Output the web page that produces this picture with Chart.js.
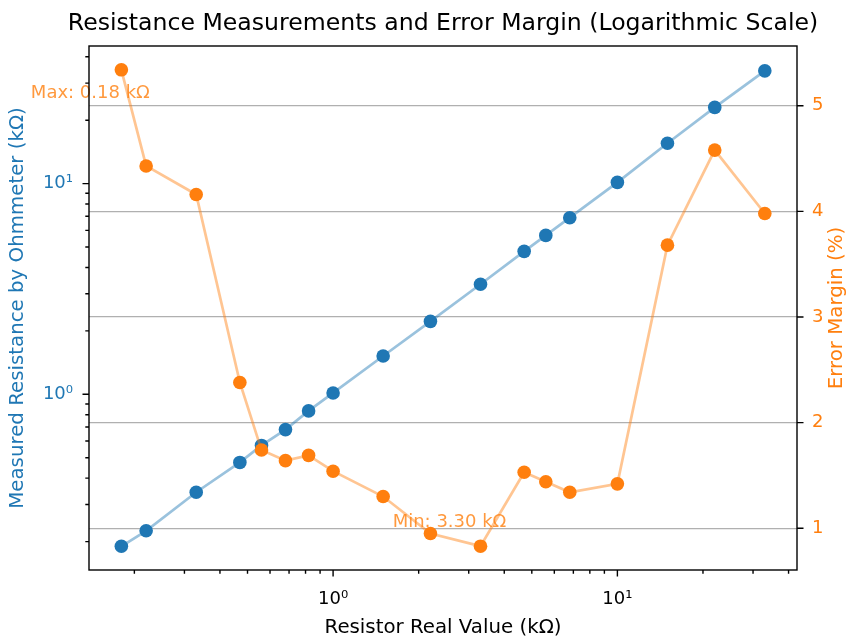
<!DOCTYPE html>
<html><head><meta charset="utf-8">
<script src="https://cdn.jsdelivr.net/npm/chart.js@4"></script>
<style>html,body{margin:0;padding:0;background:#fff}canvas{display:block}</style>
</head><body>
<canvas id="c" width="846" height="639"></canvas>
<script>
// ---- data ----
const realValues = [0.18, 0.22, 0.33, 0.47, 0.56, 0.68, 0.82, 1.0, 1.5, 2.2, 3.3, 4.7, 5.6, 6.8, 10, 15, 22, 33];
const measuredValues = [0.19, 0.225, 0.343, 0.475, 0.572, 0.68, 0.834, 1.015, 1.52, 2.22, 3.33, 4.77, 5.68, 6.89, 10.14, 15.55, 23.0, 34.3];
const errorMargins = [5.34, 4.43, 4.16, 2.38, 1.74, 1.64, 1.69, 1.54, 1.30, 0.95, 0.83, 1.53, 1.44, 1.34, 1.42, 3.68, 4.58, 3.98];
const xDecadeTicks = [1, 10];
const yDecadeTicks = [1, 10];
const errorTicks = [1, 2, 3, 4, 5];
const xLimits = [0.1385, 42.83];
const yLimits = [0.1466, 45.0];
const errLimits = [0.6045, 5.5655];

const BLUE = '#1f77b4', ORANGE = '#ff7f0e';
const FONT = 'DejaVu Sans';
const LABEL_SIZE = 19.8;
const SUP = {'0':'⁰','1':'¹','2':'²','3':'³','4':'⁴','5':'⁵','6':'⁶','7':'⁷','8':'⁸','9':'⁹','-':'⁻'};
const pow10Label = v => { const e = Math.round(Math.log10(v)); return '10' + String(e).split('').map(c => SUP[c]).join(''); };

const measuredData = realValues.map((x, i) => ({x, y: measuredValues[i]}));
const errorData = realValues.map((x, i) => ({x, y: errorMargins[i]}));

const logTicks = (min, max) => {
  const out = [];
  for (let k = Math.floor(Math.log10(min)); k <= Math.ceil(Math.log10(max)); k++)
    for (let m = 1; m <= 9; m++) {
      const v = m * Math.pow(10, k);
      if (v >= min && v <= max) out.push({v, major: m === 1});
    }
  return out;
};

const decor = {
  id: 'decor',
  afterDatasetsDraw(chart) {
    const {ctx, chartArea: a, scales} = chart;
    ctx.save();
    // annotations for max / min error
    let iMax = 0, iMin = 0;
    errorMargins.forEach((e, i) => { if (e > errorMargins[iMax]) iMax = i; if (e < errorMargins[iMin]) iMin = i; });
    ctx.font = '18px "' + FONT + '"';
    ctx.fillStyle = 'rgba(255,127,14,0.8)';
    ctx.textAlign = 'center';
    ctx.textBaseline = 'alphabetic';
    const pMax = {x: scales.x.getPixelForValue(realValues[iMax]), y: scales.y2.getPixelForValue(errorMargins[iMax])};
    const pMin = {x: scales.x.getPixelForValue(realValues[iMin]), y: scales.y2.getPixelForValue(errorMargins[iMin])};
    ctx.fillText('Max: ' + realValues[iMax].toFixed(2) + ' kΩ', pMax.x - 31, pMax.y + 28.5);
    ctx.fillText('Min: ' + realValues[iMin].toFixed(2) + ' kΩ', pMin.x - 31, pMin.y - 19);
    // right axis title (reads bottom-to-top, like the reference)
    ctx.save();
    ctx.translate(837, (a.top + a.bottom) / 2);
    ctx.rotate(-Math.PI / 2);
    ctx.font = LABEL_SIZE + 'px "' + FONT + '"';
    ctx.fillStyle = ORANGE;
    ctx.textBaseline = 'middle';
    ctx.fillText('Error Margin (%)', 0, 0);
    ctx.restore();
    // frame
    ctx.strokeStyle = '#000';
    ctx.lineWidth = 1.4;
    ctx.strokeRect(a.left, a.top, a.right - a.left, a.bottom - a.top);
    // tick marks
    ctx.beginPath();
    logTicks(scales.x.min, scales.x.max).forEach(t => {
      const px = scales.x.getPixelForValue(t.v);
      ctx.moveTo(px, a.bottom); ctx.lineTo(px, a.bottom + (t.major ? 6.5 : 3.7));
    });
    logTicks(scales.y.min, scales.y.max).forEach(t => {
      const py = scales.y.getPixelForValue(t.v);
      ctx.moveTo(a.left, py); ctx.lineTo(a.left - (t.major ? 6.5 : 3.7), py);
    });
    errorTicks.forEach(v => {
      const py = scales.y2.getPixelForValue(v);
      ctx.moveTo(a.right, py); ctx.lineTo(a.right + 6.5, py);
    });
    ctx.stroke();
    ctx.restore();
  }
};

new Chart(document.getElementById('c'), {
  type: 'line',
  data: {
    datasets: [
      {
        label: 'Measured Resistance',
        data: measuredData,
        yAxisID: 'y',
        borderColor: 'rgba(31,119,180,0.45)',
        borderWidth: 2.7,
        pointBackgroundColor: BLUE,
        pointBorderWidth: 0,
        pointRadius: 6.8,
        tension: 0,
        order: 1
      },
      {
        label: 'Error Margin',
        data: errorData,
        yAxisID: 'y2',
        borderColor: 'rgba(255,127,14,0.45)',
        borderWidth: 2.7,
        pointBackgroundColor: ORANGE,
        pointBorderWidth: 0,
        pointRadius: 6.8,
        tension: 0,
        order: 0
      }
    ]
  },
  options: {
    responsive: false,
    animation: false,
    layout: {padding: {left: 40, right: 0, top: 0, bottom: 0}},
    plugins: {
      legend: {display: false},
      tooltip: {enabled: false},
      title: {
        display: true,
        text: 'Resistance Measurements and Error Margin (Logarithmic Scale)',
        color: '#000',
        fullSize: true,
        font: {family: FONT, size: 23.6, weight: 'normal', lineHeight: 1.2},
        padding: {top: 9.34, bottom: 8.34}
      }
    },
    scales: {
      x: {
        type: 'logarithmic',
        position: 'bottom',
        min: xLimits[0], max: xLimits[1],
        afterBuildTicks: s => { s.ticks = xDecadeTicks.map(v => ({value: v})); },
        afterFit: s => { s.height = 69; s.paddingLeft = 0; s.paddingRight = 0; },
        grid: {display: false, drawTicks: false},
        border: {display: false},
        ticks: {
          autoSkip: false, maxRotation: 0, padding: 19, color: '#000',
          font: {family: FONT, size: 18},
          callback: v => pow10Label(v)
        },
        title: {display: true, text: 'Resistor Real Value (kΩ)', color: '#000',
          font: {family: FONT, size: LABEL_SIZE, lineHeight: 1.1}, padding: {top: 0, bottom: 0}}
      },
      y: {
        type: 'logarithmic',
        position: 'left',
        min: yLimits[0], max: yLimits[1],
        afterBuildTicks: s => { s.ticks = yDecadeTicks.map(v => ({value: v})); },
        afterFit: s => { s.width = 49; s.paddingTop = 0; s.paddingBottom = 0; },
        grid: {display: false, drawTicks: false},
        border: {display: false},
        ticks: {
          autoSkip: false, padding: 16, color: BLUE,
          font: {family: FONT, size: 18},
          callback: v => pow10Label(v)
        },
        title: {display: true, text: 'Measured Resistance by Ohmmeter (kΩ)', color: BLUE,
          font: {family: FONT, size: LABEL_SIZE, lineHeight: 1.1}, padding: {top: -33.4, bottom: 0}}
      },
      y2: {
        type: 'linear',
        position: 'right',
        min: errLimits[0], max: errLimits[1],
        afterBuildTicks: s => { s.ticks = errorTicks.map(v => ({value: v})); },
        afterFit: s => { s.width = 49; s.paddingTop = 0; s.paddingBottom = 0; },
        grid: {display: true, drawTicks: false, color: '#b0b0b0', lineWidth: 1.3},
        border: {display: false},
        ticks: {
          autoSkip: false, padding: 15, color: ORANGE,
          font: {family: FONT, size: 18},
          callback: v => String(v)
        },
        title: {display: false}
      }
    }
  },
  plugins: [decor]
});
</script>
</body></html>
